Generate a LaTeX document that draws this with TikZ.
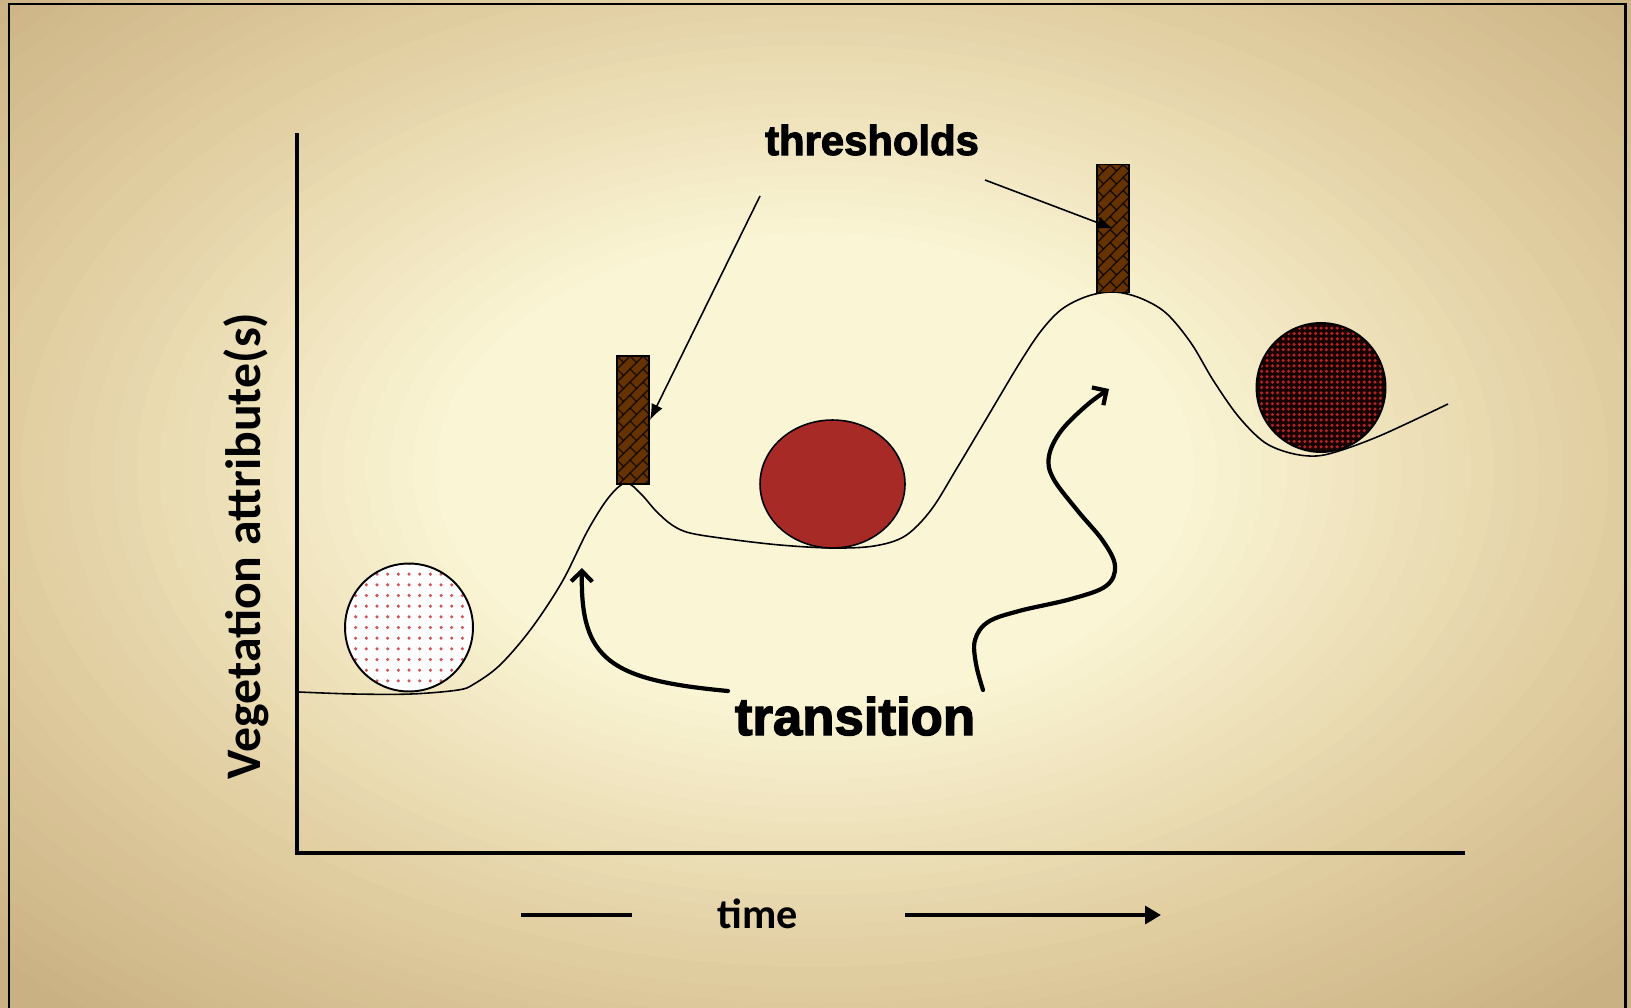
\documentclass[tikz,border=0pt]{standalone}
\usepackage{fontspec}
\usetikzlibrary{arrows.meta,shapes.geometric}
\newfontfamily\carlito{Carlito}
\newfontfamily\heavy[FakeBold=2.6]{Liberation Sans Bold}
\definecolor{bgin}{RGB}{251,246,214}
\definecolor{bgmid}{RGB}{225,206,161}
\definecolor{bgout}{RGB}{202,177,131}
\definecolor{barbrown}{RGB}{102,51,0}
\definecolor{dotpink}{RGB}{210,85,85}
\definecolor{dotdark}{RGB}{175,38,33}
\definecolor{redfill}{RGB}{168,42,38}
\tikzset{
  axisline/.style={line width=2.3pt},
  valley/.style={line width=0.9pt, line join=round},
  thresharrow/.style={line width=0.9pt, -{Latex[length=9pt,width=7pt]}},
  transarrow/.style={line width=2.4pt, line cap=round, -{Straight Barb[length=6pt,width=12pt]}},
  timeline/.style={line width=2.8pt},
  weavebar/.style={draw=black, line width=1.1pt, fill=barbrown, minimum width=0.64cm, minimum height=2.56cm, inner sep=0pt,
    path picture={
      \foreach \k in {0,...,14}{
        \draw[black, opacity=0.75, line width=0.8pt] ([shift={(0,\k*13)}]path picture bounding box.north west) -- ++(70,-70);
        \foreach \m in {-8,...,3}{
          \pgfmathsetmacro\tv{(\k*13+\m*26+mod(\k,2)*13)/2}
          \draw[black, opacity=0.75, line width=0.8pt] ([shift={(\tv,\k*13-\tv)}]path picture bounding box.north west) -- ++(6.5,6.5);
        }
      }
    }},
  lightball/.style={circle, draw=black, line width=1.1pt, fill=white, minimum size=2.56cm, inner sep=0pt,
    path picture={
      \foreach \i in {-6,...,6}{\foreach \j in {-6,...,6}{
        \fill[dotpink] ([shift={(\i*10.67,\j*10.67)}]path picture bounding box.center) circle (1pt);}}
    }},
  darkball/.style={circle, draw=black, line width=1.1pt, fill=black!90!red, minimum size=2.58cm, inner sep=0pt,
    path picture={
      \foreach \i in {-12,...,12}{\foreach \j in {-12,...,12}{
        \fill[dotdark] ([shift={(\i*5.4,\j*5.4)}]path picture bounding box.center) circle (1pt);}}
    }},
  redball/.style={ellipse, draw=black, line width=0.9pt, fill=redfill, minimum width=2.9cm, minimum height=2.56cm, inner sep=0pt},
  bigword/.style={anchor=base, inner sep=0pt, font=\heavy},
}
\begin{document}
\begin{tikzpicture}[x=0.02cm, y=-0.02cm]
\useasboundingbox (0,0) rectangle (1631,1007);
% background: stepped elliptical gradient
\fill[bgout] (-5,-5) rectangle (1636,1012);
\foreach \f in {1.00,0.98,...,0.70}{
  \pgfmathsetmacro\p{(\f-0.7)/0.3*100}
  \fill[bgout!\p!bgmid] (815,470) ellipse ({1150*\f} and {720*\f});
}
\foreach \f in {0.69,0.67,...,0.31}{
  \pgfmathsetmacro\p{max(0,(\f-0.32)/0.38*100)}
  \fill[bgmid!\p!bgin] (815,470) ellipse ({1150*\f} and {720*\f});
}
\draw[line width=1.7pt] (9,1012) -- (9,4) -- (1625,4) -- (1625,1012);

% axes
\coordinate (ytop) at (297,133);
\coordinate (orig) at (297,853);
\coordinate (xend) at (1465,853);
\draw[axisline] (ytop) -- (orig) -- (xend);

% valley curve
\draw[valley] plot[smooth, tension=0.55] coordinates {
 (299,692) (354,694) (411,694) (458,690) (474,684) (500,665) (531,629) (562,582) (588,530)
 (609,497) (626,483) (641,494) (656,511) (672,525) (690,533) (728,539) (780,545) (832,548)
 (874,546) (905,536) (931,510) (957,468) (988,416) (1019,364) (1041,331) (1062,309) (1088,296)
 (1114,292) (1140,298) (1166,313) (1191,343) (1213,380) (1238,416) (1264,442) (1290,453)
 (1316,456) (1342,450) (1384,434) (1448,404)};

% balls
\node[lightball] (ball1) at (409,627.5) {};
\node[redball] (ball2) at (832.5,484) {};
\node[darkball] (ball3) at (1321,387.5) {};

% threshold bars
\node[weavebar] (bar1) at (633,420) {};
\node[weavebar] (bar2) at (1113,228.5) {};

% labels
\node[bigword, font=\heavy\fontsize{23.8}{28}\selectfont] (thr) at (872,155) {thresholds};
\node[bigword, font=\heavy\fontsize{30}{34}\selectfont] (tr) at (855,735) {transition};
\node[anchor=base, rotate=90, inner sep=0pt, font=\carlito\bfseries\fontsize{28.3}{33}\selectfont] (ylab) at (260,546) {Vegetation attribute(s)};
\node[anchor=base, inner sep=0pt, font=\carlito\bfseries\fontsize{24}{28}\selectfont] (time) at (758,928) {time};

% threshold pointers
\coordinate (t1s) at (760,196);
\coordinate (t2s) at (985,180);
\draw[thresharrow] (t1s) -- (bar1.east);
\draw[thresharrow] (t2s) -- (bar2.center);

% transition arrows
\coordinate (trL) at (728,691);
\coordinate (trLtip) at (582,568);
\draw[transarrow] (trL) .. controls (610,680) and (580,660) .. (trLtip);
\draw[transarrow] plot[smooth, tension=0.6] coordinates {
 (983,690) (976,664) (975,640) (988,622) (1019,611) (1071,599) (1106,586) (1115,566)
 (1103,541) (1077,510) (1053,478) (1049,456) (1061,431) (1087,405) (1109,389)};

% time axis
\coordinate (tl1) at (521,915);
\coordinate (tl2) at (632,915);
\coordinate (tr1) at (905,915);
\coordinate (tr2) at (1161,915);
\draw[timeline] (tl1) -- (tl2);
\draw[timeline, -{Triangle[length=9pt,width=10pt]}] (tr1) -- (tr2);
\end{tikzpicture}
\end{document}
